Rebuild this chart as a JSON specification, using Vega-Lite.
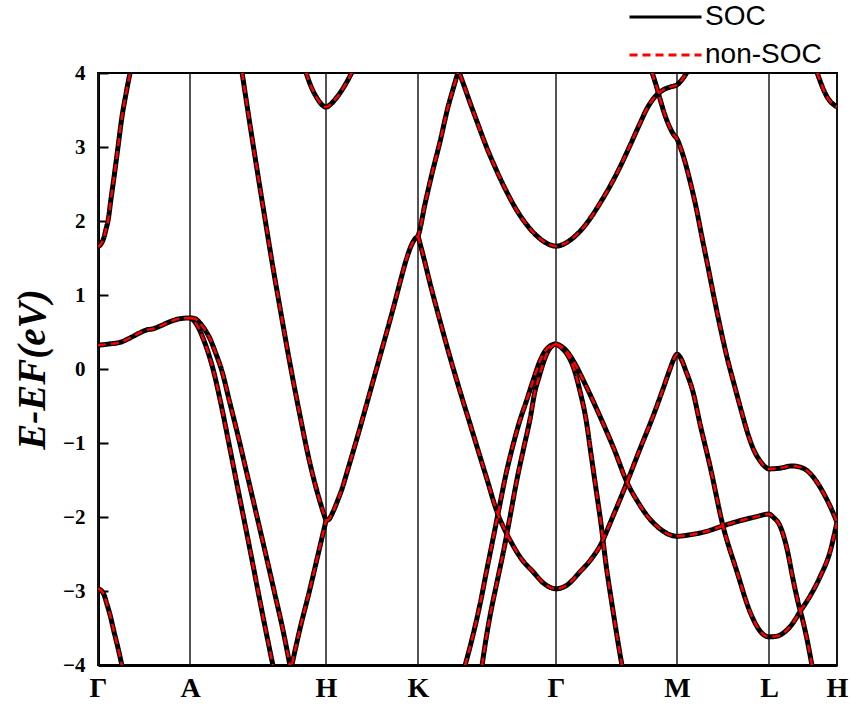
{
"$schema": "https://vega.github.io/schema/vega-lite/v6.json",
"width": 739, "height": 592,
"autosize": {"type": "none"},
"padding": {"left": 98, "top": 73, "right": 14, "bottom": 41},
"background": "white",
"config": {
 "view": {"stroke": "black", "strokeWidth": 2},
 "legend": {"orient": "none", "legendX": 530, "legendY": -70, "symbolType": "stroke", "symbolSize": 5184, "symbolStrokeWidth": 3, "clipHeight": 28, "labelFont": "Liberation Sans", "labelFontSize": 28, "labelColor": "black", "rowPadding": 10, "labelOffset": 2, "title": null}
},
"datasets": {
 "kpts": [{"k":0},{"k":92},{"k":228},{"k":320},{"k":458},{"k":579},{"k":671},{"k":739}],
 "bands": [
{"b":"g1","k":0,"E":1.65},{"b":"g1","k":3,"E":1.69},{"b":"g1","k":6,"E":1.78},{"b":"g1","k":8,"E":1.89},{"b":"g1","k":10,"E":2.0},{"b":"g1","k":13,"E":2.3},{"b":"g1","k":16,"E":2.59},{"b":"g1","k":20,"E":3.0},{"b":"g1","k":24,"E":3.41},{"b":"g1","k":28,"E":3.72},{"b":"g1","k":32,"E":4.0},
{"b":"v1","k":0,"E":0.32},{"b":"v1","k":12,"E":0.34},{"b":"v1","k":22,"E":0.36},{"b":"v1","k":32,"E":0.42},{"b":"v1","k":42,"E":0.49},{"b":"v1","k":49,"E":0.53},{"b":"v1","k":54,"E":0.54},{"b":"v1","k":62,"E":0.58},{"b":"v1","k":72,"E":0.64},{"b":"v1","k":82,"E":0.68},{"b":"v1","k":92,"E":0.69},{"b":"v1","k":96,"E":0.65},{"b":"v1","k":100,"E":0.57},{"b":"v1","k":104,"E":0.45},{"b":"v1","k":109,"E":0.27},{"b":"v1","k":115,"E":0.0},{"b":"v1","k":122,"E":-0.41},{"b":"v1","k":132,"E":-1.08},{"b":"v1","k":139,"E":-1.56},{"b":"v1","k":147,"E":-2.1},{"b":"v1","k":154,"E":-2.58},{"b":"v1","k":160,"E":-3.0},{"b":"v1","k":167,"E":-3.48},{"b":"v1","k":175,"E":-4.01},
{"b":"v2","k":92,"E":0.69},{"b":"v2","k":97,"E":0.68},{"b":"v2","k":102,"E":0.62},{"b":"v2","k":107,"E":0.53},{"b":"v2","k":112,"E":0.41},{"b":"v2","k":117,"E":0.24},{"b":"v2","k":124,"E":-0.03},{"b":"v2","k":131,"E":-0.41},{"b":"v2","k":140,"E":-0.9},{"b":"v2","k":148,"E":-1.36},{"b":"v2","k":157,"E":-1.88},{"b":"v2","k":167,"E":-2.46},{"b":"v2","k":177,"E":-3.05},{"b":"v2","k":185,"E":-3.53},{"b":"v2","k":192,"E":-4.01},
{"b":"g3","k":0,"E":-2.97},{"b":"g3","k":3,"E":-2.99},{"b":"g3","k":6,"E":-3.05},{"b":"g3","k":9,"E":-3.18},{"b":"g3","k":12,"E":-3.32},{"b":"g3","k":16,"E":-3.55},{"b":"g3","k":20,"E":-3.77},{"b":"g3","k":24,"E":-4.01},
{"b":"h5","k":144,"E":4.01},{"b":"h5","k":152,"E":3.3},{"b":"h5","k":159,"E":2.7},{"b":"h5","k":167,"E":2.03},{"b":"h5","k":174,"E":1.45},{"b":"h5","k":183,"E":0.75},{"b":"h5","k":192,"E":0.07},{"b":"h5","k":202,"E":-0.63},{"b":"h5","k":211,"E":-1.22},{"b":"h5","k":220,"E":-1.7},{"b":"h5","k":228,"E":-2.05},
{"b":"h6","k":194,"E":-3.99},{"b":"h6","k":202,"E":-3.51},{"b":"h6","k":212,"E":-2.97},{"b":"h6","k":220,"E":-2.51},{"b":"h6","k":228,"E":-2.05},
{"b":"h7","k":228,"E":-2.05},{"b":"h7","k":231,"E":-2.03},{"b":"h7","k":235,"E":-1.93},{"b":"h7","k":239,"E":-1.8},{"b":"h7","k":244,"E":-1.62},{"b":"h7","k":250,"E":-1.35},{"b":"h7","k":257,"E":-1.03},{"b":"h7","k":264,"E":-0.7},{"b":"h7","k":270,"E":-0.41},{"b":"h7","k":277,"E":-0.07},{"b":"h7","k":284,"E":0.27},{"b":"h7","k":291,"E":0.61},{"b":"h7","k":297,"E":0.91},{"b":"h7","k":303,"E":1.22},{"b":"h7","k":309,"E":1.51},{"b":"h7","k":314,"E":1.69},{"b":"h7","k":317,"E":1.76},{"b":"h7","k":320,"E":1.8},{"b":"h7","k":327,"E":2.23},{"b":"h7","k":334,"E":2.64},{"b":"h7","k":342,"E":3.07},{"b":"h7","k":350,"E":3.54},{"b":"h7","k":355,"E":3.78},{"b":"h7","k":360,"E":4.01},
{"b":"h8","k":208,"E":4.01},{"b":"h8","k":211,"E":3.89},{"b":"h8","k":215,"E":3.76},{"b":"h8","k":220,"E":3.64},{"b":"h8","k":224,"E":3.57},{"b":"h8","k":228,"E":3.54},{"b":"h8","k":232,"E":3.57},{"b":"h8","k":237,"E":3.64},{"b":"h8","k":242,"E":3.73},{"b":"h8","k":248,"E":3.86},{"b":"h8","k":254,"E":4.01},
{"b":"B","k":320,"E":1.8},{"b":"B","k":326,"E":1.49},{"b":"B","k":332,"E":1.16},{"b":"B","k":342,"E":0.65},{"b":"B","k":352,"E":0.16},{"b":"B","k":362,"E":-0.3},{"b":"B","k":372,"E":-0.74},{"b":"B","k":379,"E":-1.05},{"b":"B","k":389,"E":-1.49},{"b":"B","k":399,"E":-1.93},{"b":"B","k":407,"E":-2.18},{"b":"B","k":414,"E":-2.36},{"b":"B","k":422,"E":-2.54},{"b":"B","k":435,"E":-2.74},{"b":"B","k":447,"E":-2.91},{"b":"B","k":458,"E":-2.97},{"b":"B","k":469,"E":-2.92},{"b":"B","k":482,"E":-2.74},{"b":"B","k":492,"E":-2.59},{"b":"B","k":502,"E":-2.39},{"b":"B","k":515,"E":-1.99},{"b":"B","k":529,"E":-1.53},{"b":"B","k":542,"E":-1.08},{"b":"B","k":555,"E":-0.64},{"b":"B","k":565,"E":-0.27},{"b":"B","k":572,"E":0.0},{"b":"B","k":576,"E":0.14},{"b":"B","k":579,"E":0.2},{"b":"B","k":583,"E":0.14},{"b":"B","k":588,"E":-0.03},{"b":"B","k":595,"E":-0.31},{"b":"B","k":602,"E":-0.74},{"b":"B","k":612,"E":-1.31},{"b":"B","k":625,"E":-2.12},{"b":"B","k":639,"E":-2.74},{"b":"B","k":652,"E":-3.28},{"b":"B","k":662,"E":-3.54},{"b":"B","k":671,"E":-3.62},{"b":"B","k":679,"E":-3.61},{"b":"B","k":687,"E":-3.55},{"b":"B","k":694,"E":-3.45},{"b":"B","k":702,"E":-3.28},{"b":"B","k":712,"E":-3.07},{"b":"B","k":722,"E":-2.81},{"b":"B","k":732,"E":-2.47},{"b":"B","k":739,"E":-2.07},
{"b":"d","k":458,"E":0.34},{"b":"d","k":464,"E":0.3},{"b":"d","k":470,"E":0.22},{"b":"d","k":477,"E":0.07},{"b":"d","k":487,"E":-0.2},{"b":"d","k":502,"E":-0.64},{"b":"d","k":516,"E":-1.08},{"b":"d","k":529,"E":-1.53},{"b":"d","k":540,"E":-1.8},{"b":"d","k":552,"E":-2.03},{"b":"d","k":562,"E":-2.16},{"b":"d","k":570,"E":-2.23},{"b":"d","k":579,"E":-2.26},{"b":"d","k":592,"E":-2.24},{"b":"d","k":607,"E":-2.2},{"b":"d","k":625,"E":-2.12},{"b":"d","k":642,"E":-2.05},{"b":"d","k":657,"E":-2.0},{"b":"d","k":671,"E":-1.96},{"b":"d","k":675,"E":-2.0},{"b":"d","k":682,"E":-2.12},{"b":"d","k":689,"E":-2.43},{"b":"d","k":695,"E":-2.84},{"b":"d","k":700,"E":-3.15},{"b":"d","k":705,"E":-3.41},{"b":"d","k":710,"E":-3.72},{"b":"d","k":714,"E":-4.01},
{"b":"c","k":458,"E":0.34},{"b":"c","k":464,"E":0.28},{"b":"c","k":470,"E":0.18},{"b":"c","k":476,"E":0.0},{"b":"c","k":482,"E":-0.3},{"b":"c","k":488,"E":-0.68},{"b":"c","k":493,"E":-1.15},{"b":"c","k":498,"E":-1.62},{"b":"c","k":503,"E":-2.09},{"b":"c","k":508,"E":-2.64},{"b":"c","k":514,"E":-3.18},{"b":"c","k":519,"E":-3.61},{"b":"c","k":524,"E":-4.01},
{"b":"a","k":367,"E":-4.01},{"b":"a","k":374,"E":-3.65},{"b":"a","k":382,"E":-3.18},{"b":"a","k":389,"E":-2.7},{"b":"a","k":396,"E":-2.23},{"b":"a","k":402,"E":-1.82},{"b":"a","k":408,"E":-1.42},{"b":"a","k":415,"E":-1.03},{"b":"a","k":422,"E":-0.69},{"b":"a","k":428,"E":-0.45},{"b":"a","k":435,"E":-0.16},{"b":"a","k":442,"E":0.11},{"b":"a","k":447,"E":0.24},{"b":"a","k":452,"E":0.31},{"b":"a","k":458,"E":0.34},
{"b":"bb","k":384,"E":-4.01},{"b":"bb","k":388,"E":-3.65},{"b":"bb","k":392,"E":-3.34},{"b":"bb","k":399,"E":-2.88},{"b":"bb","k":406,"E":-2.43},{"b":"bb","k":412,"E":-2.0},{"b":"bb","k":419,"E":-1.49},{"b":"bb","k":426,"E":-1.05},{"b":"bb","k":432,"E":-0.68},{"b":"bb","k":437,"E":-0.3},{"b":"bb","k":441,"E":-0.11},{"b":"bb","k":446,"E":0.11},{"b":"bb","k":450,"E":0.24},{"b":"bb","k":454,"E":0.31},{"b":"bb","k":458,"E":0.34},
{"b":"U","k":362,"E":3.98},{"b":"U","k":366,"E":3.83},{"b":"U","k":372,"E":3.6},{"b":"U","k":378,"E":3.38},{"b":"U","k":384,"E":3.16},{"b":"U","k":390,"E":2.95},{"b":"U","k":397,"E":2.73},{"b":"U","k":402,"E":2.58},{"b":"U","k":410,"E":2.36},{"b":"U","k":419,"E":2.14},{"b":"U","k":427,"E":1.98},{"b":"U","k":435,"E":1.85},{"b":"U","k":443,"E":1.75},{"b":"U","k":450,"E":1.69},{"b":"U","k":458,"E":1.66},{"b":"U","k":466,"E":1.69},{"b":"U","k":474,"E":1.76},{"b":"U","k":482,"E":1.86},{"b":"U","k":492,"E":2.03},{"b":"U","k":502,"E":2.24},{"b":"U","k":512,"E":2.47},{"b":"U","k":522,"E":2.73},{"b":"U","k":532,"E":3.02},{"b":"U","k":542,"E":3.32},{"b":"U","k":549,"E":3.52},{"b":"U","k":557,"E":3.68},{"b":"U","k":565,"E":3.77},{"b":"U","k":572,"E":3.81},{"b":"U","k":579,"E":3.84},{"b":"U","k":584,"E":3.91},{"b":"U","k":589,"E":4.01},
{"b":"C","k":554,"E":4.01},{"b":"C","k":558,"E":3.84},{"b":"C","k":562,"E":3.65},{"b":"C","k":567,"E":3.43},{"b":"C","k":572,"E":3.26},{"b":"C","k":576,"E":3.16},{"b":"C","k":579,"E":3.11},{"b":"C","k":582,"E":3.01},{"b":"C","k":587,"E":2.8},{"b":"C","k":592,"E":2.54},{"b":"C","k":598,"E":2.19},{"b":"C","k":604,"E":1.78},{"b":"C","k":610,"E":1.38},{"b":"C","k":616,"E":0.97},{"b":"C","k":622,"E":0.58},{"b":"C","k":629,"E":0.16},{"b":"C","k":636,"E":-0.2},{"b":"C","k":643,"E":-0.55},{"b":"C","k":650,"E":-0.88},{"b":"C","k":656,"E":-1.1},{"b":"C","k":662,"E":-1.24},{"b":"C","k":667,"E":-1.32},{"b":"C","k":671,"E":-1.35},{"b":"C","k":682,"E":-1.34},{"b":"C","k":694,"E":-1.31},{"b":"C","k":705,"E":-1.34},{"b":"C","k":712,"E":-1.41},{"b":"C","k":719,"E":-1.53},{"b":"C","k":726,"E":-1.69},{"b":"C","k":732,"E":-1.85},{"b":"C","k":739,"E":-2.07},
{"b":"H2","k":719,"E":4.01},{"b":"H2","k":723,"E":3.86},{"b":"H2","k":727,"E":3.73},{"b":"H2","k":732,"E":3.62},{"b":"H2","k":736,"E":3.57},{"b":"H2","k":739,"E":3.54}
 ]
},
"layer": [
 {"data": {"name": "kpts"},
  "mark": {"type": "rule", "color": "#1a1a1a", "strokeWidth": 1.5},
  "encoding": {
   "x": {"field": "k", "type": "quantitative", "scale": {"domain": [0, 739], "nice": false, "zero": false},
    "axis": {"values": [0, 92, 228, 320, 458, 579, 671, 739], "labelExpr": "datum.value == 0 ? 'Γ' : datum.value == 92 ? 'A' : datum.value == 228 ? 'H' : datum.value == 320 ? 'K' : datum.value == 458 ? 'Γ' : datum.value == 579 ? 'M' : datum.value == 671 ? 'L' : 'H'",
     "title": null, "ticks": false, "grid": false, "domain": true, "domainColor": "black", "domainWidth": 3, "labelFont": "Liberation Serif", "labelFontWeight": "bold", "labelFontSize": 28, "labelColor": "black", "labelPadding": 9, "labelFlush": false, "labelOverlap": false, "labelBound": false}}
  }},
 {"data": {"name": "bands"},
  "mark": {"type": "line", "strokeWidth": 5, "clip": true, "interpolate": "monotone"},
  "encoding": {
   "x": {"field": "k", "type": "quantitative"},
   "y": {"field": "E", "type": "quantitative", "scale": {"domain": [-4, 4], "nice": false},
    "axis": {"values": [-4, -3, -2, -1, 0, 1, 2, 3, 4], "format": "d", "grid": false, "tickSize": -10, "tickWidth": 2, "tickColor": "black", "domain": true, "domainColor": "black", "domainWidth": 3,
     "labelFont": "Liberation Serif", "labelFontWeight": "bold", "labelFontSize": 21, "labelColor": "black", "labelPadding": 23,
     "title": "E-EF(eV)", "titleFont": "Liberation Serif", "titleFontWeight": "bold", "titleFontStyle": "italic", "titleFontSize": 39, "titleColor": "black", "titlePadding": 10}},
   "detail": {"field": "b"},
   "color": {"datum": "SOC", "scale": {"domain": ["SOC", "non-SOC"], "range": ["black", "#ff0000"]}, "legend": {"title": null}},
   "strokeDash": {"datum": "SOC", "scale": {"domain": ["SOC", "non-SOC"], "range": [[1, 0], [8, 5]]}, "legend": {"title": null}}
  }},
 {"data": {"name": "bands"},
  "mark": {"type": "line", "strokeWidth": 2.5, "clip": true, "interpolate": "monotone"},
  "encoding": {
   "x": {"field": "k", "type": "quantitative"},
   "y": {"field": "E", "type": "quantitative"},
   "detail": {"field": "b"},
   "color": {"datum": "non-SOC"},
   "strokeDash": {"datum": "non-SOC"}
  }}
]
}
